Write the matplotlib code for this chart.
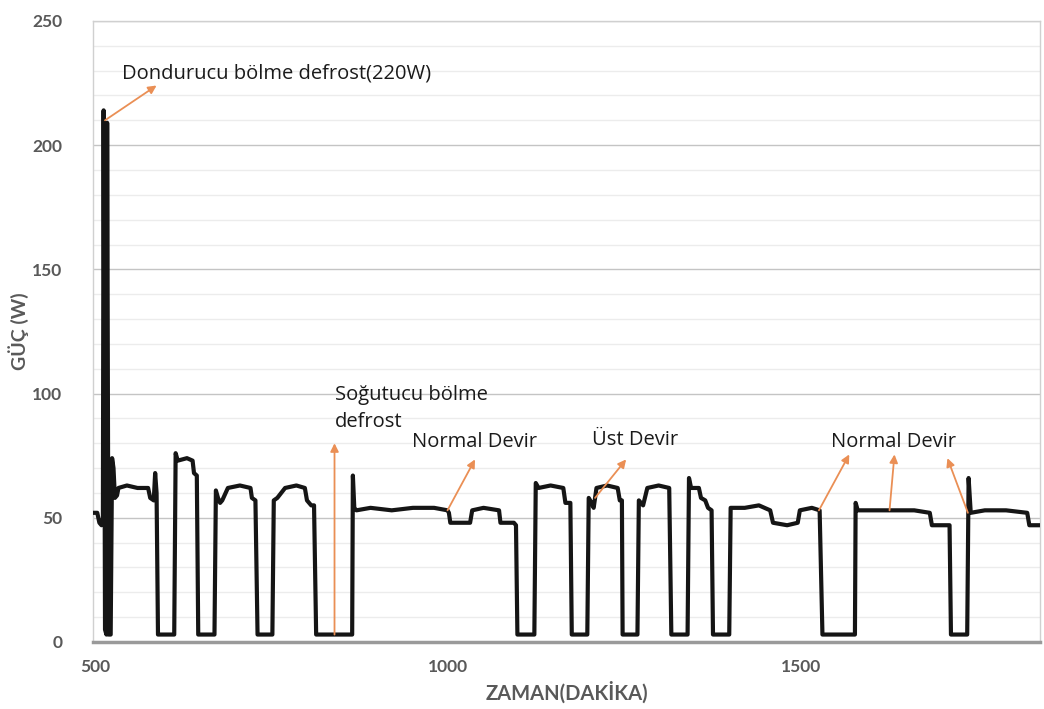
import numpy as np
import matplotlib.pyplot as plt
from matplotlib.ticker import MultipleLocator

# Buzdolabi guc olcumu (dakika, W)
zaman = [497, 503, 506, 509, 511, 512, 514, 516, 517, 519, 522, 524, 526, 528, 531, 533,
         545, 560, 575, 578, 583, 585, 587, 589, 612, 614, 617, 630, 638, 640, 644, 646,
         669, 671, 674, 677, 680, 688, 705, 720, 722, 727, 730, 751, 753, 758, 769, 785,
         797, 800, 806, 810, 813, 864, 865, 867, 870, 890, 920, 950, 980, 999, 1001, 1003,
         1015, 1031, 1034, 1050, 1072, 1074, 1093, 1096, 1098, 1122, 1124, 1128, 1145, 1163,
         1166, 1173, 1175, 1197, 1199, 1203, 1206, 1210, 1225, 1240, 1243, 1246, 1247, 1268,
         1270, 1276, 1282, 1298, 1313, 1316, 1339, 1341, 1344, 1355, 1358, 1364, 1368, 1373,
         1375, 1398, 1400, 1420, 1440, 1456, 1460, 1480, 1495, 1498, 1515, 1526, 1530, 1576,
         1577, 1580, 1600, 1630, 1660, 1682, 1685, 1700, 1710, 1712, 1735, 1737, 1740, 1760,
         1790, 1820, 1823, 1838]
guc = [52, 52, 48, 47, 50, 214, 5, 3, 209, 3, 3, 74, 70, 58, 59, 62,
       63, 62, 62, 58, 57, 68, 60, 3, 3, 76, 73, 74, 73, 68, 67, 3,
       3, 61, 58, 56, 57, 62, 63, 62, 58, 57, 3, 3, 57, 58, 62, 63,
       62, 57, 55, 55, 3, 3, 67, 54, 53, 54, 53, 54, 54, 53, 52, 48,
       48, 48, 53, 54, 53, 48, 48, 47, 3, 3, 64, 62, 63, 62,
       56, 56, 3, 3, 58, 56, 54, 62, 63, 62, 57, 57, 3, 3,
       57, 55, 62, 63, 62, 3, 3, 66, 62, 62, 58, 57, 54, 53,
       3, 3, 54, 54, 55, 53, 48, 47, 48, 53, 54, 53, 3, 3,
       56, 53, 53, 53, 53, 52, 47, 47, 47, 3, 3, 66, 52, 53,
       53, 52, 47, 47]

gri = '#595959'
turuncu = '#EA8F55'

fig = plt.figure(figsize=(10.44, 7.09), dpi=100)
ax = fig.add_axes([0.0891, 0.0945, 0.907, 0.876])

ax.plot(zaman, guc, color='#151515', lw=3.0, solid_joinstyle='round', zorder=3)

ax.set_xlim(497, 1838)
ax.set_ylim(0, 250)
ax.xaxis.set_major_locator(MultipleLocator(500))
ax.yaxis.set_major_locator(MultipleLocator(50))
ax.yaxis.set_minor_locator(MultipleLocator(10))
ax.grid(axis='y', which='major', color='#c4c4c4', lw=1.0)
ax.grid(axis='y', which='minor', color='#ececec', lw=1.0)
ax.set_axisbelow(True)

for s in ['top', 'right', 'left']:
    ax.spines[s].set_color('#d0d0d0')
    ax.spines[s].set_linewidth(1.0)
ax.spines['bottom'].set_color('#9a9a9a')
ax.spines['bottom'].set_linewidth(2.5)

ax.tick_params(which='both', length=0)
ax.tick_params(axis='y', pad=22)
ax.tick_params(axis='x', pad=12)
for lab in ax.get_xticklabels() + ax.get_yticklabels():
    lab.set_fontfamily('Lato')
    lab.set_fontweight('bold')
    lab.set_fontsize(12.5)
    lab.set_color(gri)

ax.set_xlabel('ZAMAN(DAKİKA)', family='Lato', weight='bold', fontsize=14.5,
              color=gri, labelpad=5)
ax.set_ylabel('GÜÇ (W)', family='Lato', weight='bold', fontsize=14,
              color=gri, labelpad=2)

# Aciklamalar ve oklar
ok = dict(arrowstyle='-|>', color=turuncu, lw=1.3, mutation_scale=12,
          shrinkA=0, shrinkB=0)
yazi = dict(family='Open Sans', fontsize=14.5, color='#1a1a1a')

ax.text(538, 229, 'Dondurucu bölme defrost(220W)', va='center', ha='left', **yazi)
ax.annotate('', xy=(587, 224), xytext=(514, 210), arrowprops=ok)

ax.text(839, 94, 'Soğutucu bölme\ndefrost', va='center', ha='left',
        linespacing=1.45, **yazi)
ax.annotate('', xy=(839, 80), xytext=(839, 3), arrowprops=ok)

ax.text(1037, 80.5, 'Normal Devir', va='center', ha='center', **yazi)
ax.annotate('', xy=(1038, 73.5), xytext=(999, 53), arrowprops=ok)

ax.text(1264, 81.5, 'Üst Devir', va='center', ha='center', **yazi)
ax.annotate('', xy=(1252, 73.5), xytext=(1208, 58), arrowprops=ok)

ax.text(1630, 80.5, 'Normal Devir', va='center', ha='center', **yazi)
ax.annotate('', xy=(1568, 75.5), xytext=(1525, 53), arrowprops=ok)
ax.annotate('', xy=(1632, 75.5), xytext=(1625, 53), arrowprops=ok)
ax.annotate('', xy=(1707, 74), xytext=(1736, 52), arrowprops=ok)

fig.savefig('out.png', dpi=100)
